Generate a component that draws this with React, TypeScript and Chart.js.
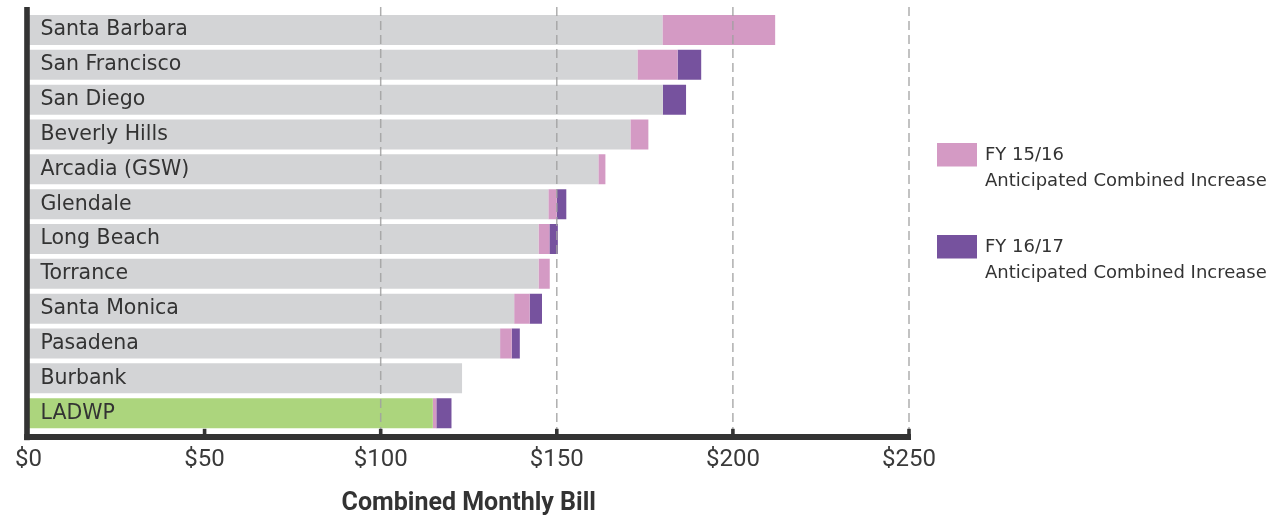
import React, { useEffect, useRef } from "react";
import { Chart, registerables } from "chart.js";

Chart.register(...registerables);

const categories = [
  "Santa Barbara",
  "San Francisco",
  "San Diego",
  "Beverly Hills",
  "Arcadia (GSW)",
  "Glendale",
  "Long Beach",
  "Torrance",
  "Santa Monica",
  "Pasadena",
  "Burbank",
  "LADWP",
];
const currentBill = [180.0, 172.9, 180.1, 170.9, 161.8, 147.6, 144.8, 144.8, 137.9, 133.9, 123.1, 114.8];
const fy1516Increase = [32.0, 11.4, 0, 5.1, 2.0, 2.4, 3.1, 3.2, 4.4, 3.3, 0, 1.0];
const fy1617Increase = [0, 6.7, 6.6, 0, 0, 2.7, 2.4, 0, 3.5, 2.3, 0, 4.3];
const highlightCategory = "LADWP";
const xTickValues = [0, 50, 100, 150, 200, 250];
const dashedGridValues = [100, 150, 200, 250];
const tickMarkValues = [50, 100, 150, 200, 250];
const legendLines = [
  ["FY 15/16", "Anticipated Combined Increase"],
  ["FY 16/17", "Anticipated Combined Increase"],
];
const axisTitle = "Combined Monthly Bill";

const GRAY = "#d3d4d6";
const GREEN = "#acd57d";
const PINK = "#d49ac4";
const PURPLE = "#76529e";
const DARK = "#333333";

const decorPlugin = {
  id: "decor",
  afterDatasetsDraw(chart: any) {
    const { ctx, chartArea, scales } = chart;
    const xs = scales.x;
    const top = chartArea.top;
    const bottom = chartArea.bottom;
    ctx.save();
    // dashed vertical grid lines
    ctx.setLineDash([9, 5]);
    ctx.lineWidth = 1.5;
    ctx.strokeStyle = "rgba(160,160,160,0.85)";
    for (const v of dashedGridValues) {
      const px = xs.getPixelForValue(v);
      ctx.beginPath();
      ctx.moveTo(px, top - 5.5);
      ctx.lineTo(px, bottom + 3);
      ctx.stroke();
    }
    ctx.setLineDash([]);
    // axis lines
    ctx.fillStyle = DARK;
    const left = chartArea.left;
    ctx.fillRect(left - 4.3, top - 5.6, 5.6, bottom + 9.6 - (top - 5.6));
    const rightEnd = xs.getPixelForValue(250) + 2;
    ctx.fillRect(left - 4.3, bottom + 3.4, rightEnd - (left - 4.3), 6);
    // small tick marks
    for (const v of tickMarkValues) {
      const px = xs.getPixelForValue(v);
      ctx.fillRect(px - 1.8, bottom - 1.8, 3.6, 5.4);
    }
    // legend
    const ds = chart.data.datasets;
    const legendColors = [ds[1].backgroundColor, ds[2].backgroundColor];
    const boxTops = [143, 235];
    ctx.textAlign = "left";
    ctx.textBaseline = "alphabetic";
    ctx.font = "18px 'DejaVu Sans'";
    legendLines.forEach((lines, i) => {
      ctx.fillStyle = legendColors[i];
      ctx.fillRect(937, boxTops[i], 40, 23.5);
      ctx.fillStyle = DARK;
      ctx.fillText(lines[0], 985, boxTops[i] + 17);
      ctx.fillText(lines[1], 985, boxTops[i] + 43);
    });
    ctx.restore();
  },
};

export default function App() {
  const canvasRef = useRef<HTMLCanvasElement | null>(null);

  useEffect(() => {
    const canvas = canvasRef.current;
    if (!canvas) return;
    const chart = new Chart(canvas, {
      type: "bar",
      data: {
        labels: categories,
        datasets: [
          {
            label: "Current Combined Bill",
            data: currentBill,
            backgroundColor: categories.map((c) => (c === highlightCategory ? GREEN : GRAY)),
          },
          {
            label: "FY 15/16 Anticipated Combined Increase",
            data: fy1516Increase,
            backgroundColor: PINK,
          },
          {
            label: "FY 16/17 Anticipated Combined Increase",
            data: fy1617Increase,
            backgroundColor: PURPLE,
          },
        ],
      },
      options: {
        indexAxis: "y",
        responsive: false,
        animation: false,
        devicePixelRatio: 1,
        layout: { padding: { top: 12.6, left: 27, right: 371, bottom: 0 } },
        datasets: { bar: { barPercentage: 0.86, categoryPercentage: 1 } },
        plugins: { legend: { display: false }, tooltip: { enabled: false } },
        scales: {
          x: {
            type: "linear",
            stacked: true,
            min: 0,
            max: 250,
            afterBuildTicks: (s: any) => {
              s.ticks = xTickValues.map((v) => ({ value: v }));
            },
            afterFit: (s: any) => {
              s.height = 85.4;
            },
            grid: { display: false, drawTicks: false },
            border: { display: false },
            ticks: {
              callback: (v: any) => "$" + v,
              font: { family: "Roboto", size: 24 },
              color: "#3a3a3a",
              padding: 15,
              maxRotation: 0,
              autoSkip: false,
            },
            title: {
              display: true,
              text: axisTitle,
              font: { family: "Roboto", size: 25, weight: "bold", lineHeight: 1.0 },
              color: DARK,
              padding: { top: 0, bottom: 0 },
            },
          },
          y: {
            type: "category",
            stacked: true,
            offset: true,
            afterFit: (s: any) => {
              s.width = 0;
              s.paddingTop = 0;
              s.paddingBottom = 0;
            },
            grid: { display: false, drawTicks: false },
            border: { display: false },
            ticks: {
              mirror: true,
              z: 1,
              padding: 12,
              autoSkip: false,
              font: { family: "DejaVu Sans", size: 20.5 },
              color: DARK,
            },
          },
        },
      },
      plugins: [decorPlugin],
    } as any);
    return () => chart.destroy();
  }, []);

  return (
    <div style={{ position: "absolute", left: 0, top: 0, width: 1280, height: 516, background: "#ffffff" }}>
      <canvas ref={canvasRef} width={1280} height={516} style={{ display: "block", width: 1280, height: 516 }} />
    </div>
  );
}
